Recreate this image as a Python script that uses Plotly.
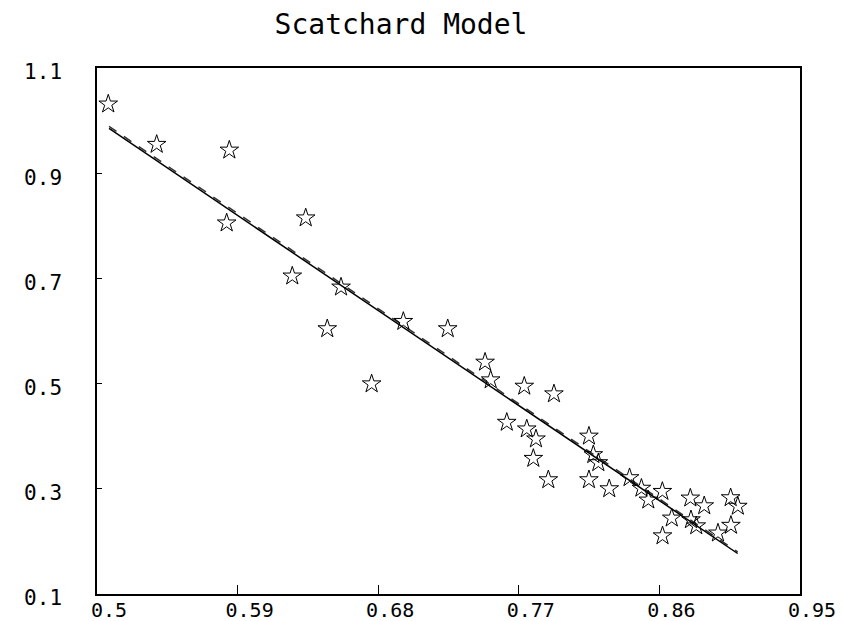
import plotly.graph_objects as go

x_obs = [0.5072, 0.5382, 0.5847, 0.5830, 0.6336, 0.6250, 0.6562, 0.6474, 0.6961, 0.7245,
         0.6758, 0.7484, 0.7520, 0.7735, 0.7925, 0.7623, 0.7751, 0.7810, 0.7793, 0.7889,
         0.8149, 0.8177, 0.8209, 0.8149, 0.8279, 0.8409, 0.8485, 0.8529, 0.8619, 0.8679,
         0.8620, 0.8798, 0.8887, 0.8802, 0.8836, 0.8975, 0.9056, 0.9102, 0.9058]
y_obs = [1.0314, 0.9547, 0.9438, 0.8053, 0.8149, 0.7044, 0.6834, 0.6042, 0.6181, 0.6042,
         0.4994, 0.5406, 0.5070, 0.4949, 0.4804, 0.4263, 0.4137, 0.3947, 0.3577, 0.3171,
         0.4000, 0.3648, 0.3495, 0.3171, 0.3000, 0.3210, 0.3010, 0.2785, 0.2949, 0.2442,
         0.2105, 0.2823, 0.2676, 0.2410, 0.2295, 0.2158, 0.2829, 0.2667, 0.2305]

# Fitted lines
fit_x = [0.5077, 0.9101]
fit_solid = [0.985, 0.177]
fit_dashed = [0.989, 0.180]

x_ticks = [0.5, 0.59, 0.68, 0.77, 0.86, 0.95]
y_ticks = [0.1, 0.3, 0.5, 0.7, 0.9, 1.1]
title_text = "Scatchard Model"

FONT = "DejaVu Sans Mono"

fig = go.Figure()
fig.add_trace(go.Scatter(x=fit_x, y=fit_dashed, mode="lines",
                         line=dict(color="#333333", width=1.5, dash="dash"),
                         showlegend=False, hoverinfo="skip"))
fig.add_trace(go.Scatter(x=fit_x, y=fit_solid, mode="lines",
                         line=dict(color="black", width=1.5),
                         showlegend=False, hoverinfo="skip"))
fig.add_trace(go.Scatter(x=x_obs, y=y_obs, mode="markers",
                         marker=dict(symbol="star-open", size=14,
                                     color="black", line=dict(color="black", width=1)),
                         showlegend=False))

fig.update_layout(
    width=843, height=621,
    margin=dict(l=89, r=51, t=60, b=35),
    paper_bgcolor="white", plot_bgcolor="white",
    font=dict(family=FONT, color="black", size=20),
    title=dict(text=title_text, x=393/843, xref="container", xanchor="center",
               y=1-16.5/621, yref="container", yanchor="middle",
               font=dict(family=FONT, size=28, color="black")),
    xaxis=dict(range=[0.5, 0.95], tickvals=x_ticks,
               ticktext=[f"{v:g}" for v in x_ticks],
               showgrid=False, zeroline=False, automargin=False,
               showline=True, linecolor="black", linewidth=1.5, mirror=True,
               ticks="inside", ticklen=9, tickwidth=1, tickcolor="black",
               ticklabelshift=12, ticklabelstandoff=-3,
               tickfont=dict(family=FONT, size=20)),
    yaxis=dict(range=[0.1, 1.1], tickvals=y_ticks,
               ticktext=[f"{v:g}" for v in y_ticks],
               showgrid=False, zeroline=False, automargin=False,
               showline=True, linecolor="black", linewidth=1.5, mirror=True,
               ticks="inside", ticklen=5, tickwidth=1, tickcolor="black",
               ticklabelstandoff=29, ticklabelshift=4,
               tickfont=dict(family=FONT, size=21)),
)

fig.write_html("out.html")
